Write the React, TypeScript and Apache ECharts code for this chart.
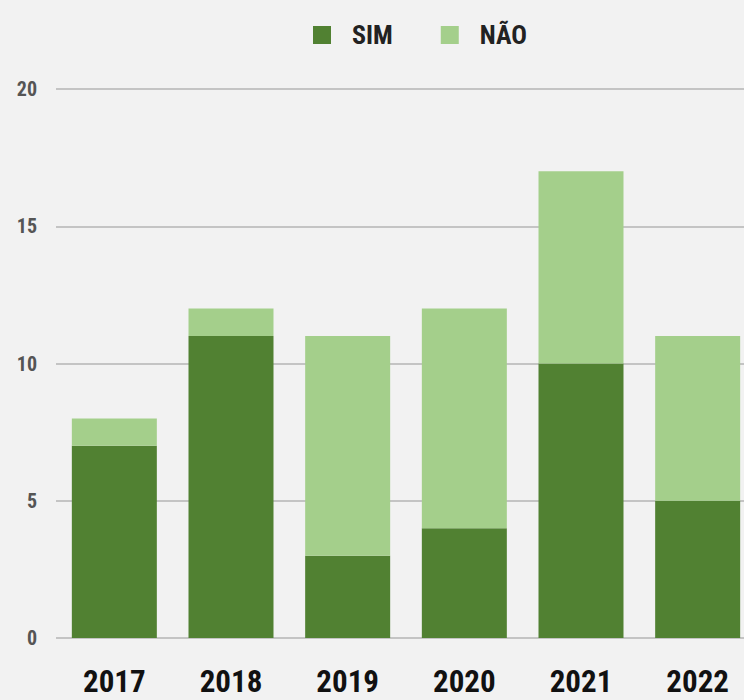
import React, { useEffect, useRef } from "react";
import * as echarts from "echarts";

const categories = ["2017", "2018", "2019", "2020", "2021", "2022"];
const simValues = [7, 11, 3, 4, 10, 5];
const naoValues = [1, 1, 8, 8, 7, 6];
const yTicks = { min: 0, max: 20, interval: 5 };

export default function App() {
  const ref = useRef<HTMLDivElement>(null);
  useEffect(() => {
    if (!ref.current) return;
    const chart = echarts.init(ref.current, null, { renderer: "svg" });
    const font = "'Roboto Condensed', 'Open Sans Condensed', sans-serif";
    chart.setOption({
      animation: false,
      backgroundColor: "#f2f2f2",
      legend: {
        top: 17,
        left: 308,
        itemWidth: 18,
        itemHeight: 18,
        itemGap: 48,
        icon: "rect",
        itemStyle: { borderRadius: 3 },
        textStyle: {
          fontFamily: font,
          fontSize: 26,
          color: "#222",
          fontWeight: "bold",
          padding: [0, 0, 0, 16],
        },
        data: ["SIM", "NÃO"],
      },
      grid: { left: 56, right: 0, top: 89, bottom: 62 },
      xAxis: {
        type: "category",
        data: categories,
        axisLine: { show: false },
        axisTick: { show: false },
        axisLabel: { fontFamily: font, fontSize: 31, fontWeight: "bold", color: "#111", margin: 28 },
      },
      yAxis: {
        type: "value",
        min: yTicks.min,
        max: yTicks.max,
        interval: yTicks.interval,
        axisLabel: { fontFamily: font, fontSize: 20, fontWeight: "bold", color: "#555", margin: 19 },
        splitLine: { lineStyle: { color: "#c4c4c4", width: 2 } },
      },
      series: [
        {
          name: "SIM",
          type: "bar",
          stack: "total",
          data: simValues,
          barWidth: 85,
          itemStyle: { color: "#518132" },
        },
        {
          name: "NÃO",
          type: "bar",
          stack: "total",
          data: naoValues,
          barWidth: 85,
          itemStyle: { color: "#a4cf8b" },
        },
      ],
    });
    return () => chart.dispose();
  }, []);
  return (
    <div style={{ position: "absolute", left: 0, top: 0, width: 744, height: 700, overflow: "hidden" }}>
      <div ref={ref} style={{ width: 756, height: 700 }} />
    </div>
  );
}
